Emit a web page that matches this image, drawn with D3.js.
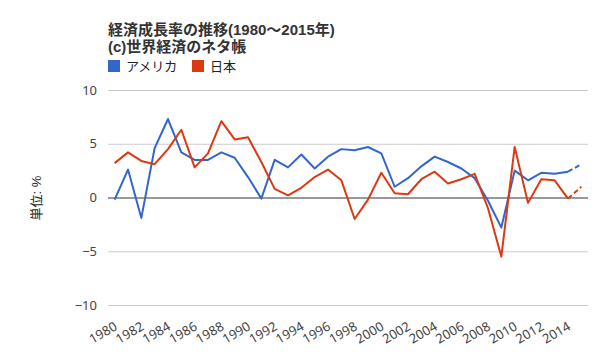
<!DOCTYPE html>
<html><head><meta charset="utf-8">
<script src="https://cdn.jsdelivr.net/npm/d3@7/dist/d3.min.js"></script>
<style>body{margin:0;background:#fff;}svg{display:block;font-family:"Liberation Sans","Noto Sans CJK JP",Arial,sans-serif;}</style>
</head><body><svg id="c" width="600" height="360"></svg>
<script>
const years = d3.range(1980, 2016);
const usa = [-0.2,2.6,-1.9,4.6,7.3,4.2,3.5,3.5,4.2,3.7,1.9,-0.1,3.5,2.8,4.0,2.7,3.8,4.5,4.4,4.7,4.1,1.0,1.8,2.9,3.8,3.3,2.7,1.8,-0.3,-2.8,2.5,1.6,2.3,2.2,2.4,3.1];
const japan = [3.2,4.2,3.4,3.1,4.5,6.3,2.8,4.1,7.1,5.4,5.6,3.3,0.8,0.2,0.9,1.9,2.6,1.6,-2.0,-0.2,2.3,0.4,0.3,1.7,2.4,1.3,1.7,2.2,-1.0,-5.5,4.7,-0.5,1.7,1.6,-0.1,1.0];
const estimatedFrom = 2014; // last segment (2014→2015) is an estimate, drawn dashed
const yTicks = [-10,-5,0,5,10];
const xTickYears = d3.range(1980, 2016, 2);
const seriesNames = ["アメリカ","日本"];
const colors = ["#3366cc","#dc3912"];

const svg = d3.select("#c");
const L=108, R=588, T=90, B=305;
const x = d3.scalePoint().domain(years).range([L,R]).padding(0.5);
const y = d3.scaleLinear().domain([-10,10]).range([B,T]);

// title
svg.append("text").attr("x",108).attr("y",35).attr("font-size",15).attr("font-weight","bold").attr("fill","#333").text("経済成長率の推移(1980～2015年)");
svg.append("text").attr("x",108).attr("y",52).attr("font-size",15).attr("font-weight","bold").attr("fill","#333").text("(c)世界経済のネタ帳");

// legend
const lg = svg.append("g");
[0,1].forEach(i=>{
  const lx = i===0?108:192;
  lg.append("rect").attr("x",lx).attr("y",60).attr("width",12).attr("height",12).attr("fill",colors[i]);
  lg.append("text").attr("x",lx+18).attr("y",71).attr("font-size",13).attr("fill","#222").text(seriesNames[i]);
});

// gridlines
const yAxis = d3.axisLeft(y).tickValues(yTicks).tickSize(-(R-L)).tickPadding(11);
const ga = svg.append("g").attr("transform",`translate(${L},0)`).call(yAxis);
ga.select(".domain").remove();
ga.selectAll(".tick line").attr("stroke",d=>d===0?"#333":"#ccc").attr("stroke-width",1);
ga.selectAll(".tick text").attr("font-size",13).attr("fill","#444").attr("font-family","'Noto Sans', Arial, sans-serif");
ga.selectAll(".tick").filter(d=>d===0).raise();

// y title
svg.append("text").attr("transform","translate(41,198) rotate(-90)").attr("text-anchor","middle")
  .attr("font-size",13).attr("fill","#222").text("単位: %");

// x axis labels
const xAxis = d3.axisBottom(x).tickValues(xTickYears).tickSize(0).tickPadding(0);
const gx = svg.append("g").attr("transform",`translate(0,${B})`).call(xAxis);
gx.select(".domain").remove();
gx.selectAll(".tick text").attr("font-size",13).attr("fill","#444").attr("font-family","'Noto Sans', Arial, sans-serif")
  .attr("text-anchor","end").attr("dy",0).attr("transform","translate(3,24) rotate(-30)");

// lines
[usa,japan].forEach((vals,i)=>{
  const pts = years.map((yr,j)=>({yr,v:vals[j]}));
  const line = d3.line().x(d=>x(d.yr)).y(d=>y(d.v));
  svg.append("path").attr("d",line(pts.filter(d=>d.yr<=estimatedFrom))).attr("fill","none")
    .attr("stroke",colors[i]).attr("stroke-width",2).attr("stroke-linejoin","round");
  svg.append("path").attr("d",line(pts.filter(d=>d.yr>=estimatedFrom))).attr("fill","none")
    .attr("stroke",colors[i]).attr("stroke-width",2).attr("stroke-dasharray","5,3");
});
</script></body></html>
